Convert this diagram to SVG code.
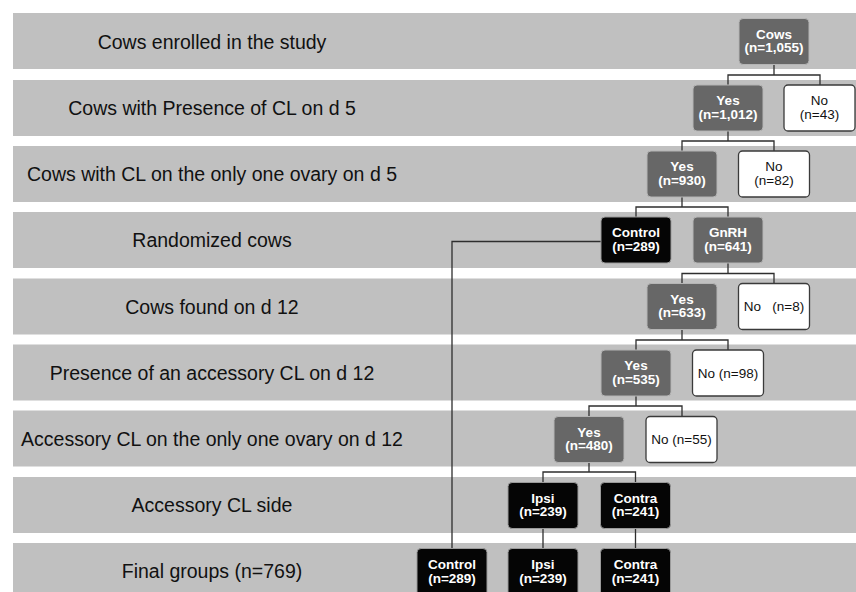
<svg xmlns="http://www.w3.org/2000/svg" width="856" height="592" viewBox="0 0 856 592">
<style>
.band{fill:#c0c0c0}
.lbl{font-family:"Liberation Sans",Arial,sans-serif;font-size:19.5px;fill:#111;text-anchor:middle}
.dk{fill:#676767;stroke:#b5b5b5;stroke-width:1}
.bk{fill:#050505;stroke:#9a9a9a;stroke-width:1}
.wt{fill:#fff;stroke:#3a3a3a;stroke-width:1.3}
.tw{font-family:"Liberation Sans",Arial,sans-serif;font-size:13.5px;font-weight:bold;fill:#fff;text-anchor:middle}
.tb{font-family:"Liberation Sans",Arial,sans-serif;font-size:13.5px;fill:#111;text-anchor:middle}
.ln{fill:none;stroke:#2e2e2e;stroke-width:1.3}
</style>
<rect width="856" height="592" fill="#fff"/>
<g id="bands">
<rect class="band" x="13" y="13" width="843" height="56"/>
<rect class="band" x="13" y="80" width="843" height="56"/>
<rect class="band" x="13" y="146" width="843" height="56"/>
<rect class="band" x="13" y="212" width="843" height="56"/>
<rect class="band" x="13" y="278.5" width="843" height="56"/>
<rect class="band" x="13" y="344.5" width="843" height="56"/>
<rect class="band" x="13" y="410.5" width="843" height="56"/>
<rect class="band" x="13" y="477" width="843" height="56"/>
<rect class="band" x="13" y="543" width="843" height="49"/>
<text class="lbl" x="212" y="49">Cows enrolled in the study</text>
<text class="lbl" x="212" y="115">Cows with Presence of CL on d 5</text>
<text class="lbl" x="212" y="181">Cows with CL on the only one ovary on d 5</text>
<text class="lbl" x="212" y="247">Randomized cows</text>
<text class="lbl" x="212" y="313.5">Cows found on d 12</text>
<text class="lbl" x="212" y="379.5">Presence of an accessory CL on d 12</text>
<text class="lbl" x="212" y="445.5">Accessory CL on the only one ovary on d 12</text>
<text class="lbl" x="212" y="512">Accessory CL side</text>
<text class="lbl" x="212" y="577.5">Final groups (n=769)</text>
</g>
<g id="connectors">
<path class="ln" d="M774,64.5V75M728,85V75H820V85"/>
<path class="ln" d="M728,131V141M682,151V141H774V151"/>
<path class="ln" d="M682,197V207M636,217V207H728V217"/>
<path class="ln" d="M601,241.5H452V548.5"/>
<path class="ln" d="M728,263V273.5M682,283.5V273.5H774V283.5"/>
<path class="ln" d="M682,329.5V340M636,350V340H728V350"/>
<path class="ln" d="M636,396V406M589,416.5V406H682V416.5"/>
<path class="ln" d="M589,462.5V472M543,482.5V472H635.5V482.5"/>
<path class="ln" d="M543,528.5V548.5M635.5,528.5V548.5"/>
</g>
<g id="cows"><rect class="dk" x="739" y="18.5" width="70" height="46" rx="4"/><text class="tw" x="774" y="38.5">Cows</text><text class="tw" x="774" y="52">(n=1,055)</text></g>
<g id="yes1012"><rect class="dk" x="693" y="85" width="70" height="46" rx="4"/><text class="tw" x="728" y="105">Yes</text><text class="tw" x="728" y="118.5">(n=1,012)</text></g>
<g id="no43"><rect class="wt" x="784" y="85" width="71" height="46" rx="4"/><text class="tb" x="819.5" y="105">No</text><text class="tb" x="819.5" y="118.5">(n=43)</text></g>
<g id="yes930"><rect class="dk" x="647" y="151" width="70" height="46" rx="4"/><text class="tw" x="682" y="171">Yes</text><text class="tw" x="682" y="184.5">(n=930)</text></g>
<g id="no82"><rect class="wt" x="738.5" y="151" width="71" height="46" rx="4"/><text class="tb" x="774" y="171">No</text><text class="tb" x="774" y="184.5">(n=82)</text></g>
<g id="control"><rect class="bk" x="601" y="217" width="70" height="46" rx="4"/><text class="tw" x="636" y="237">Control</text><text class="tw" x="636" y="250.5">(n=289)</text></g>
<g id="gnrh"><rect class="dk" x="693" y="217" width="70" height="46" rx="4"/><text class="tw" x="728" y="237">GnRH</text><text class="tw" x="728" y="250.5">(n=641)</text></g>
<g id="yes633"><rect class="dk" x="647" y="283.5" width="70" height="46" rx="4"/><text class="tw" x="682" y="303.5">Yes</text><text class="tw" x="682" y="317">(n=633)</text></g>
<g id="no8"><rect class="wt" x="738.5" y="283.5" width="71" height="46" rx="4"/><text class="tb" x="774" y="311" xml:space="preserve">No   (n=8)</text></g>
<g id="yes535"><rect class="dk" x="601" y="350" width="70" height="46" rx="4"/><text class="tw" x="636" y="370">Yes</text><text class="tw" x="636" y="383.5">(n=535)</text></g>
<g id="no98"><rect class="wt" x="692.5" y="350" width="71" height="46" rx="4"/><text class="tb" x="728" y="377.5">No (n=98)</text></g>
<g id="yes480"><rect class="dk" x="554" y="416.5" width="70" height="46" rx="4"/><text class="tw" x="589" y="436.5">Yes</text><text class="tw" x="589" y="450">(n=480)</text></g>
<g id="no55"><rect class="wt" x="646" y="416.5" width="71" height="46" rx="4"/><text class="tb" x="681.5" y="444">No (n=55)</text></g>
<g id="ipsi"><rect class="bk" x="508" y="482.5" width="70" height="46" rx="4"/><text class="tw" x="543" y="502.5">Ipsi</text><text class="tw" x="543" y="516">(n=239)</text></g>
<g id="contra"><rect class="bk" x="600.5" y="482.5" width="70" height="46" rx="4"/><text class="tw" x="635.5" y="502.5">Contra</text><text class="tw" x="635.5" y="516">(n=241)</text></g>
<g id="finalControl"><rect class="bk" x="417" y="548.5" width="70" height="50" rx="4"/><text class="tw" x="452" y="569">Control</text><text class="tw" x="452" y="583">(n=289)</text></g>
<g id="finalIpsi"><rect class="bk" x="508" y="548.5" width="70" height="50" rx="4"/><text class="tw" x="543" y="569">Ipsi</text><text class="tw" x="543" y="583">(n=239)</text></g>
<g id="finalContra"><rect class="bk" x="600.5" y="548.5" width="70" height="50" rx="4"/><text class="tw" x="635.5" y="569">Contra</text><text class="tw" x="635.5" y="583">(n=241)</text></g>
</svg>
